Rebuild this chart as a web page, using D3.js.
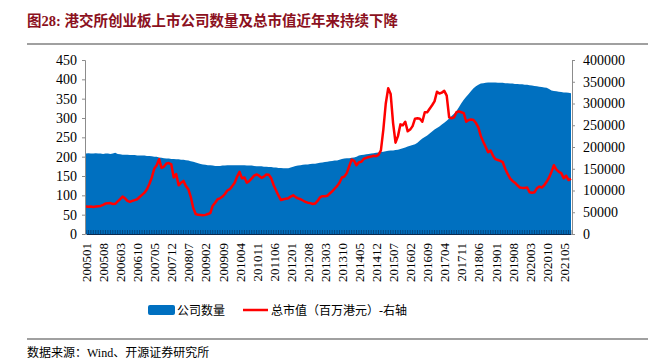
<!DOCTYPE html>
<html>
<head>
<meta charset="utf-8">
<script src="https://cdn.jsdelivr.net/npm/d3@7"></script>
<style>
body { margin: 0; background: #fff; }
</style>
</head>
<body>
<div class="container"></div>
<script>
const W = 648, H = 363;
const M = { left: 85, right: 572, top: 60, bottom: 234 };

const tickLabels = ['200501','200508','200603','200610','200705','200712','200807','200902','200909',
  '201004','201011','201106','201201','201208','201303','201310','201405','201412','201507',
  '201602','201609','201704','201711','201806','201901','201908','202003','202010','202105'];
const leftTicks = [0,50,100,150,200,250,300,350,400,450];
const rightTicks = [0,50000,100000,150000,200000,250000,300000,350000,400000];

// 公司数量, monthly 200501-202108
const companyCount = [
  208,209,208,208,209,208,208,207,208,208,207,208,
  210,207,206,205,205,205,204,204,204,203,203,203,
  203,202,202,201,200,200,198,197,196,195,195,194,
  194,193,193,192,192,191,190,188,187,185,183,181,
  180,179,178,178,177,176,176,176,177,177,178,178,
  178,178,178,178,178,178,177,177,177,176,175,175,
  175,174,174,173,173,172,172,171,171,170,170,170,
  172,174,176,177,178,179,180,180,181,182,182,183,
  184,185,186,187,188,189,190,190,192,194,195,196,
  196,197,198,200,203,204,205,206,207,208,209,210,
  211,212,213,214,215,216,216,217,218,220,222,224,
  226,228,230,232,236,242,247,251,255,260,265,270,
  274,278,283,288,293,299,305,311,318,328,338,347,
  355,362,370,377,382,386,389,390,391,392,392,392,
  392,391,391,391,390,390,389,389,388,388,387,387,
  386,386,385,384,383,382,381,380,379,378,375,371,
  370,369,368,367,366,366,365,364
];

// 总市值（百万港元）, monthly 200501-202108
const marketCap = [
  63000,62500,63000,62000,63000,64000,64500,67000,70000,70500,71000,69000,
  69500,75000,80000,86000,82000,76000,74000,76000,78000,80000,85000,90000,
  95000,103000,115000,130000,150000,158000,172000,152000,155000,162000,163000,160000,
  130000,138000,112000,118000,122000,110000,103000,85000,60000,46000,44000,43500,
  43000,44000,46000,48000,65000,72000,80000,82000,86000,92000,100000,103000,
  110000,118000,132000,143000,128000,130000,118000,122000,128000,134000,137000,134000,
  129000,132000,137000,136000,128000,112000,100000,88000,78000,80000,81000,82000,
  86000,89000,85000,82000,80000,77000,74000,72000,71000,69000,70000,76000,
  84000,87000,87000,88000,93000,98000,104000,110000,118000,130000,132000,140000,
  156000,171000,168000,158000,165000,166000,173000,175000,177000,178000,180000,179000,
  182000,192000,240000,300000,335000,322000,255000,210000,225000,252000,250000,258000,
  236000,240000,248000,265000,266000,265000,258000,280000,280000,288000,296000,305000,
  327000,323000,325000,329000,318000,268000,266000,268000,280000,282000,280000,278000,
  258000,262000,263000,262000,255000,245000,225000,212000,200000,188000,192000,180000,
  172000,170000,168000,165000,150000,138000,128000,122000,118000,112000,107000,106000,
  106000,107000,96000,95000,96000,105000,109000,107000,112000,120000,130000,143000,
  158000,148000,143000,140000,128000,134000,124000,127000
];

const SERIF = '"Liberation Serif","Times New Roman",serif';
const CJK = '"Liberation Serif","Noto Sans CJK SC",sans-serif';

var display = function () {
  var svg = d3.select('.container').append('svg')
    .attr('width', W)
    .attr('height', H);

  var n = companyCount.length;
  var x = d3.scaleLinear().domain([0, n - 1]).range([M.left + 1, M.right - 1]);
  var yL = d3.scaleLinear().domain([0, 450]).range([M.bottom, M.top]);
  var yR = d3.scaleLinear().domain([0, 400000]).range([M.bottom, M.top]);

  // title
  svg.append('text')
    .attr('x', 27).attr('y', 26)
    .style('font-family', CJK)
    .style('font-size', '14.5px')
    .style('font-weight', 'bold')
    .style('fill', '#8b1020')
    .text('图28:  港交所创业板上市公司数量及总市值近年来持续下降');
  svg.append('line')
    .attr('x1', 27).attr('x2', W).attr('y1', 44).attr('y2', 44)
    .attr('stroke', '#a0a0a0').attr('stroke-width', 2);

  // area
  var area = d3.area()
    .x(function (d, i) { return x(i); })
    .y0(yL(0))
    .y1(function (d) { return yL(d); });
  svg.append('path')
    .datum(companyCount)
    .attr('d', area)
    .style('fill', '#0070c0');

  // minor month ticks
  svg.append('g').selectAll('line')
    .data(companyCount)
    .enter().append('line')
    .attr('x1', function (d, i) { return x(i); })
    .attr('x2', function (d, i) { return x(i); })
    .attr('y1', M.bottom)
    .attr('y2', M.bottom - 4)
    .attr('stroke', '#0a2a50')
    .attr('stroke-width', 0.6);

  // line
  var line = d3.line()
    .x(function (d, i) { return x(i); })
    .y(function (d) { return yR(d); });
  svg.append('path')
    .datum(marketCap)
    .attr('d', line)
    .style('fill', 'none')
    .attr('stroke', '#ff0000')
    .attr('stroke-width', 2.5)
    .attr('stroke-linejoin', 'round');

  // axes
  var gl = svg.append('g')
    .attr('transform', 'translate(' + M.left + ',0)')
    .call(d3.axisLeft(yL).tickValues(leftTicks).tickSize(3).tickPadding(5));
  var gr = svg.append('g')
    .attr('transform', 'translate(' + M.right + ',0)')
    .call(d3.axisRight(yR).tickValues(rightTicks).tickFormat(d3.format('d')).tickSize(3).tickPadding(8));
  [gl, gr].forEach(function (g) {
    g.selectAll('path,line').attr('stroke', '#8c8c8c');
    g.selectAll('text')
      .style('font-family', SERIF)
      .style('font-size', '14px')
      .style('fill', '#000');
  });

  var gb = svg.append('g')
    .attr('transform', 'translate(0,' + M.bottom + ')')
    .call(d3.axisBottom(x)
      .tickValues(tickLabels.map(function (d, i) { return i * 7; }))
      .tickFormat(function (d, i) { return tickLabels[i]; })
      .tickSize(0));
  gb.select('path').attr('stroke', '#0a2a50');
  gb.selectAll('text')
    .attr('transform', 'rotate(-90)')
    .attr('x', -9)
    .attr('y', 0)
    .attr('dy', '0.35em')
    .style('text-anchor', 'end')
    .style('font-family', SERIF)
    .style('font-size', '13px')
    .style('fill', '#000');

  // legend
  svg.append('rect')
    .attr('x', 148).attr('y', 305).attr('width', 27).attr('height', 10)
    .attr('rx', 2)
    .style('fill', '#0070c0');
  svg.append('text')
    .attr('x', 177).attr('y', 314.5)
    .style('font-family', CJK).style('font-size', '12px')
    .text('公司数量');
  svg.append('line')
    .attr('x1', 243).attr('x2', 268).attr('y1', 310).attr('y2', 310)
    .attr('stroke', '#ff0000').attr('stroke-width', 2.5);
  svg.append('text')
    .attr('x', 271).attr('y', 314.5)
    .style('font-family', CJK).style('font-size', '12px')
    .text('总市值（百万港元）-右轴');

  // source
  svg.append('line')
    .attr('x1', 27).attr('x2', W).attr('y1', 339).attr('y2', 339)
    .attr('stroke', '#a0a0a0').attr('stroke-width', 2);
  svg.append('text')
    .attr('x', 27).attr('y', 357)
    .style('font-family', CJK).style('font-size', '12px')
    .text('数据来源：Wind、开源证券研究所');
}

window.onload = display;
</script>
</body>
</html>
